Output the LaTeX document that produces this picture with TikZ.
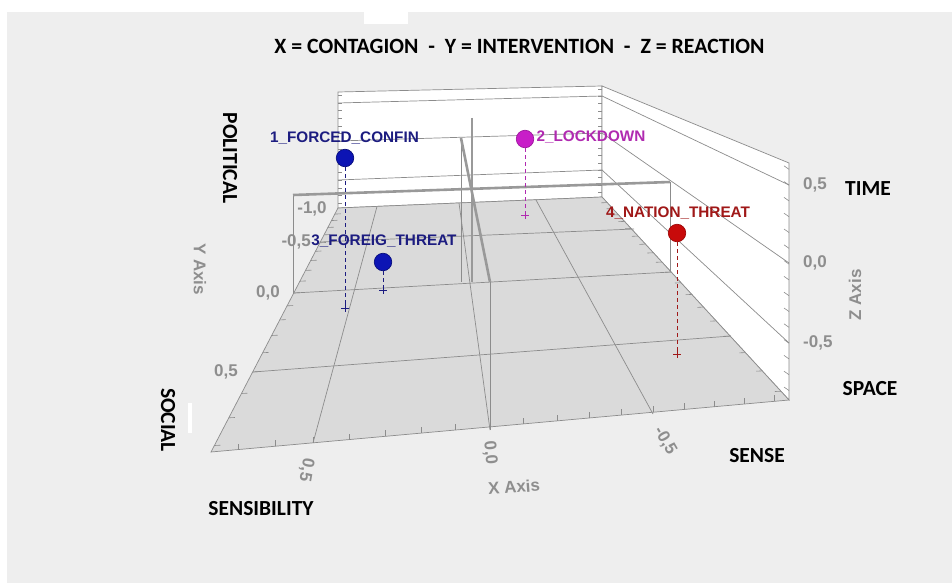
\documentclass[tikz,border=0pt]{standalone}
\usepackage{fontspec}
\usetikzlibrary{calc}
\setmainfont{Liberation Sans}
\newfontfamily\carl{Carlito}
\definecolor{bgc}{HTML}{EEEEEE}
\definecolor{floorc}{HTML}{DADADA}
\definecolor{gridc}{HTML}{8C8C8C}
\definecolor{axc}{HTML}{999999}
\definecolor{lblc}{HTML}{8E8E8E}
\definecolor{navyl}{HTML}{1C1C80}
\definecolor{dotb}{HTML}{0C14B4}
\definecolor{magd}{HTML}{C81EC8}
\definecolor{magl}{HTML}{B02AB0}
\definecolor{redd}{HTML}{C80A0A}
\definecolor{redl}{HTML}{A01818}
\tikzset{
  gridln/.style={draw=gridc, line width=0.7pt},
  tickln/.style={draw=gridc, line width=0.6pt},
  axisln/.style={draw=axc, line width=2.6pt},
  numlbl/.style={text=lblc, font=\fontsize{17}{17}\selectfont\bfseries, inner sep=0pt},
  dimlbl/.style={text=black, font=\carl\fontsize{21.5}{21.5}\selectfont\bfseries, inner sep=0pt},
  ptlbl/.style={font=\fontsize{15.3}{15.3}\selectfont\bfseries, inner sep=0pt},
  ptdot/.style={circle, inner sep=0pt, minimum size=17.5pt, line width=0.7pt},
  dropln/.style={dash pattern=on 4pt off 3pt, line width=0.8pt},
  plusmk/.style={line width=0.8pt}
}
\begin{document}
\begin{tikzpicture}[x=1pt,y=-1pt]
\useasboundingbox (0,0) rectangle (952,583);
\fill[white] (0,0) rectangle (952,583);
\fill[bgc] (7,12) rectangle (952,583);
\fill[white] (364,12) rectangle (408,24);
% walls
\filldraw[fill=white, gridln] (338,92) -- (602,86) -- (602,197) -- (338,208) -- cycle;
\filldraw[fill=white, gridln] (602,86) -- (789,163) -- (789,400) -- (602,197) -- cycle;
% back wall grid
\draw[gridln] (338,103) -- (602,96);
\draw[gridln] (338,141) -- (602,133);
\draw[gridln] (338,180) -- (602,170);
% right wall grid
\draw[gridln] (602,96) -- (789,185);
\draw[gridln] (602,133) -- (789,263);
\draw[gridln] (602,170) -- (789,343);
% floor
\filldraw[fill=floorc, gridln] (338,208) -- (602,197) -- (789,400) -- (211,452) -- cycle;
\draw[gridln] (377,206.5) -- (313,443);
\draw[gridln] (459,203) -- (490,430);
\draw[gridln] (536,200) -- (653,414);
\draw[gridln] (320,242) -- (634,229);
\draw[gridln] (294,293) -- (671,272);
\draw[gridln] (253,372) -- (731,336);
% y=0 frame
\draw[gridln] (293,195) -- (293,293);
\draw[gridln] (670,182) -- (670,272);
\draw[gridln] (461,138) -- (461,282);
\draw[gridln] (490,282) -- (490,430);
\draw[axisln] (293,195) -- (670,182);
\draw[axisln] (472,118) -- (472,282);
\draw[axisln] (461,138) -- (490,282);
% ticks
\foreach \v in {-0.8,-0.7,...,0.65} {
  \pgfmathsetmacro\yy{92+(0.64-\v)/1.5*116}
  \draw[tickln] (338,\yy) -- ++(4,0);
  \pgfmathsetmacro\yb{86+(0.64-\v)/1.5*111}
  \draw[tickln] (602,\yb) -- ++(-4,0);
  \pgfmathsetmacro\yf{163+(0.64-\v)/1.5*237}
  \draw[tickln] (789,\yf) -- ++(-5,-3.5);
}
\foreach \v in {-0.9,-0.8,...,0.85} {
  \pgfmathsetmacro\s{(-7.6*\v+293)/(1-0.445*\v)}
  \pgfmathsetmacro\xx{338-(\s-208)/244*127}
  \draw[tickln] (\xx,\s) -- ++(6,-0.3);
  \pgfmathsetmacro\sr{272/(1-0.381*\v)}
  \pgfmathsetmacro\xr{602+(\sr-197)/203*187}
  \draw[tickln] (\xr,\sr) -- ++(-6,0.3);
}
\foreach \v in {-0.9,-0.8,...,0.75} {
  \pgfmathsetmacro\sx{(-379.8*\v+490)/(1-0.0824*\v)}
  \pgfmathsetmacro\yy{452-(\sx-211)/578*52}
  \draw[tickln] (\sx,\yy) -- ++(0,-6);
}
% white artefact bar
\fill[white] (188,403) rectangle (192,433);
% axis numbers
\node[numlbl] (ym10) at (312,209) {-1,0};
\node[numlbl, anchor=east] (ym05) at (311,242) {-0,5};
\node[numlbl] (y00) at (268,293) {0,0};
\node[numlbl] (y05) at (226,372) {0,5};
\node[numlbl, rotate=-90] (yaxis) at (200,269) {Y Axis};
\node[numlbl, anchor=west] (z05) at (803,185) {0,5};
\node[numlbl, anchor=west] (z00) at (803,263) {0,0};
\node[numlbl, anchor=west] (zm05) at (803,343) {-0,5};
\node[numlbl, rotate=90] (zaxis) at (855,295) {Z Axis};
\node[numlbl, rotate=-100] (x05) at (306,470) {0,5};
\node[numlbl, rotate=-85] (x00) at (490,453) {0,0};
\node[numlbl, rotate=-60] (xm05) at (665,441) {-0,5};
\node[numlbl, rotate=4] (xaxis) at (514,487) {X Axis};
% dimension labels
\node[dimlbl, font=\carl\fontsize{21.8}{21.8}\selectfont\bfseries] (title) at (519.5,46) {X = CONTAGION\ \ -\ \ Y = INTERVENTION\ \ -\ \ Z = REACTION};
\node[dimlbl, rotate=-90] (political) at (230,158) {POLITICAL};
\node[dimlbl, rotate=-90] (social) at (168,420) {SOCIAL};
\node[dimlbl] (sensibility) at (261,509) {SENSIBILITY};
\node[dimlbl] (sense) at (757,456) {SENSE};
\node[dimlbl] (time) at (868,189) {TIME};
\node[dimlbl] (space) at (870,389) {SPACE};
% data points
\coordinate (b1) at (345,308);
\coordinate (b3) at (383,290);
\coordinate (b2) at (525,215);
\coordinate (b4) at (677,354);
\node[ptdot, fill=dotb, draw=dotb!70!black] (p1) at (345,158) {};
\node[ptdot, fill=dotb, draw=dotb!70!black] (p3) at (383,262) {};
\node[ptdot, fill=magd, draw=magd!80!black] (p2) at (525,139) {};
\node[ptdot, fill=redd, draw=redd!80!black] (p4) at (677,233) {};
\draw[dropln, navyl] (p1) -- (b1);
\draw[dropln, navyl] (p3) -- (b3);
\draw[dropln, magl] (p2) -- (b2);
\draw[dropln, redl] (p4) -- (b4);
\foreach \c/\col in {b1/navyl, b3/navyl, b2/magl, b4/redl} {
  \draw[plusmk, \col] ($(\c)+(-4,0)$) -- ($(\c)+(4,0)$);
  \draw[plusmk, \col] ($(\c)+(0,-4)$) -- ($(\c)+(0,4)$);
}
\node[ptlbl, text=navyl] (l1) at (344.5,138) {1\_FORCED\_CONFIN};
\node[ptlbl, text=navyl] (l3) at (384,241.5) {3\_FOREIG\_THREAT};
\node[ptlbl, text=magl] (l2) at (591,137.5) {2\_LOCKDOWN};
\node[ptlbl, text=redl] (l4) at (678,213.5) {4\_NATION\_THREAT};
\end{tikzpicture}
\end{document}
